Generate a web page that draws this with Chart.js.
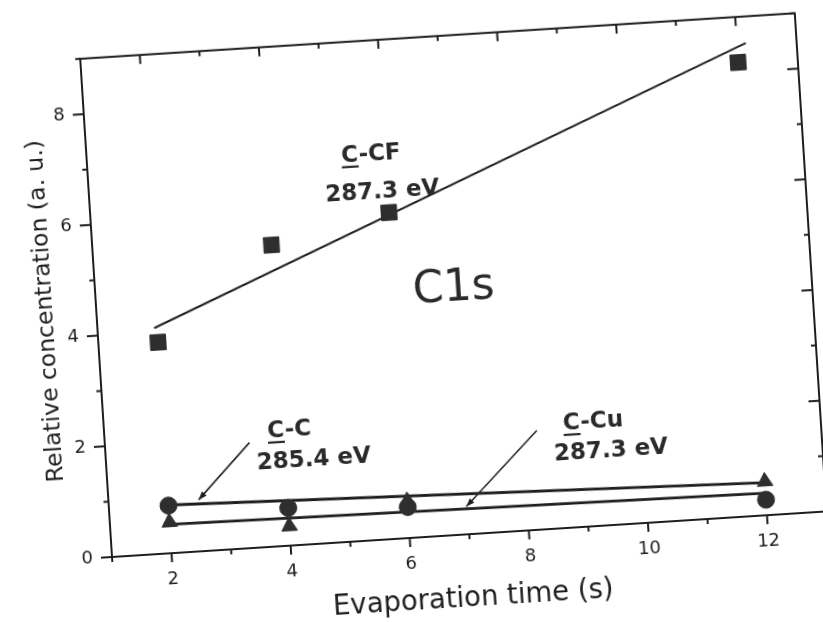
<!DOCTYPE html>
<html><head><meta charset="utf-8">
<script src="https://cdn.jsdelivr.net/npm/chart.js@4.4.0/dist/chart.umd.min.js"></script>
<style>
html,body{margin:0;padding:0;background:#fff;overflow:hidden;width:823px;height:622px;position:relative;}
canvas{position:absolute;left:0;top:0;}
</style></head><body>
<canvas id="c" width="796" height="594"></canvas>
<script>
// ---- data ----
const evapTime   = [2, 4, 6, 12];
const cfValues   = [3.81, 5.43, 5.88, 8.18];   // C-CF (squares)
const ccValues   = [0.86, 0.68, 0.56, 0.28];   // C-C (circles)
const ccuValues  = [0.56, 0.35, 0.67, 0.61];   // C-Cu (triangles)
const cfFitX  = [1.95, 12.15]; const cfFitY  = [4.07, 8.52];
const ccFitX  = [2, 12];       const ccFitY  = [0.87, 0.59];
const ccuFitX = [2, 12];       const ccuFitY = [0.52, 0.40];
const xTickValues = [2, 4, 6, 8, 10, 12];
const yTickValues = [0, 2, 4, 6, 8];
const xRange = [1, 13];
const yRange = [0, 9];
const xTitle = 'Evaporation time (s)';
const yTitle = 'Relative concentration (a. u.)';
// annotations (anchor in data units)
const noteText = ['C-CF', '287.3 eV', 'C1s', 'C-C', '285.4 eV', 'C-Cu', '287.3 eV'];
const noteX    = [5.76, 5.91, 7.0, 4.10, 4.48, 9.19, 9.46];
const noteY    = [6.94, 6.26, 4.42, 2.07, 1.52, 1.87, 1.33];
const arrowFromX = [3.42, 8.24]; const arrowFromY = [1.90, 1.79];
const arrowToX   = [2.51, 6.98]; const arrowToY   = [0.93, 0.50];

const INK = '#1e1e1e';
const MARK = '#2e2e2e';
const FONT = "'DejaVu Sans', sans-serif";
Chart.defaults.font.family = FONT;
Chart.defaults.color = INK;

const pts = (xs, ys) => xs.map((v, i) => ({x: v, y: ys[i]}));

const framePlugin = {
  id: 'frame',
  beforeDatasetsDraw(chart) {
    const {ctx, scales: {x, y}} = chart;
    const xl = x.getPixelForValue(xRange[0]), xr = x.getPixelForValue(xRange[1]);
    const yb = y.getPixelForValue(yRange[0]), yt = y.getPixelForValue(yRange[1]);
    ctx.save();
    ctx.strokeStyle = INK; ctx.lineWidth = 2; ctx.lineCap = 'square';
    ctx.strokeRect(xl, yt, xr - xl, yb - yt);
    ctx.lineCap = 'butt';
    const seg = (a, b, c, d) => { ctx.beginPath(); ctx.moveTo(a, b); ctx.lineTo(c, d); ctx.stroke(); };
    for (let v = xRange[0]; v <= xRange[1]; v++) {
      const px = x.getPixelForValue(v);
      const len = xTickValues.includes(v) ? 9 : 5;
      seg(px, yb, px, yb + len);
      seg(px, yt, px, yt + len);
    }
    for (let v = yRange[0]; v <= yRange[1]; v++) {
      const py = y.getPixelForValue(v);
      const len = yTickValues.includes(v) ? 11 : 5;
      seg(xl - len, py, xl, py);
      seg(xr - len, py, xr, py);
    }
    ctx.restore();
  }
};

const notePlugin = {
  id: 'notes',
  afterDatasetsDraw(chart) {
    const {ctx, scales: {x, y}} = chart;
    ctx.save();
    ctx.fillStyle = '#2a2a2a';
    ctx.textAlign = 'center';
    ctx.textBaseline = 'middle';
    noteText.forEach((t, i) => {
      const big = t === 'C1s';
      const size = big ? 44 : 23;
      ctx.font = (big ? '' : 'bold ') + size + 'px ' + FONT;
      const px = x.getPixelForValue(noteX[i]), py = y.getPixelForValue(noteY[i]);
      ctx.fillText(t, px, py);
      if (t.startsWith('C-')) {
        const w = ctx.measureText(t).width;
        const cw = ctx.measureText('C').width;
        ctx.fillRect(px - w / 2, py + size * 0.42, cw, 2.2);
      }
    });
    ctx.strokeStyle = INK; ctx.fillStyle = INK; ctx.lineWidth = 1.6;
    arrowFromX.forEach((fx, i) => {
      const x0 = x.getPixelForValue(fx), y0 = y.getPixelForValue(arrowFromY[i]);
      const x1 = x.getPixelForValue(arrowToX[i]), y1 = y.getPixelForValue(arrowToY[i]);
      ctx.beginPath(); ctx.moveTo(x0, y0); ctx.lineTo(x1, y1); ctx.stroke();
      const ang = Math.atan2(y1 - y0, x1 - x0), L = 9, W = 0.35;
      ctx.beginPath();
      ctx.moveTo(x1, y1);
      ctx.lineTo(x1 - L * Math.cos(ang - W), y1 - L * Math.sin(ang - W));
      ctx.lineTo(x1 - L * Math.cos(ang + W), y1 - L * Math.sin(ang + W));
      ctx.closePath(); ctx.fill();
    });
    ctx.restore();
  }
};

const markerDs = (label, ys, style, r) => ({
  label, data: pts(evapTime, ys), pointStyle: style, pointRadius: r,
  backgroundColor: MARK, borderColor: MARK, borderWidth: 1, showLine: false, order: 1
});
const fitDs = (label, xs, ys, w) => ({
  label, data: pts(xs, ys), showLine: true, pointRadius: 0,
  borderColor: INK, borderWidth: w, fill: false, order: 2
});

const makeConfig = () => ({
  type: 'scatter',
  data: {
    datasets: [
      markerDs('C-CF 287.3 eV', cfValues, 'rect', 11),
      markerDs('C-C 285.4 eV', ccValues, 'circle', 8.5),
      markerDs('C-Cu 287.3 eV', ccuValues, 'triangle', 9),
      fitDs('C-CF fit', cfFitX, cfFitY, 2),
      fitDs('C-C fit', ccFitX, ccFitY, 2.8),
      fitDs('C-Cu fit', ccuFitX, ccuFitY, 2.8)
    ]
  },
  options: {
    responsive: false, maintainAspectRatio: false, animation: false, devicePixelRatio: 1, events: [],
    layout: {padding: {left: 0, right: 10, top: 0, bottom: 0}},
    plugins: {legend: {display: false}, tooltip: {enabled: false}},
    scales: {
      x: {
        type: 'linear', position: 'bottom', min: xRange[0], max: xRange[1],
        grid: {display: false, drawTicks: false}, border: {display: false},
        afterBuildTicks: s => { s.ticks = xTickValues.map(v => ({value: v})); },
        afterFit: s => { s.height = 85; },
        ticks: {padding: 16, font: {size: 18}, color: INK},
        title: {display: true, text: xTitle, font: {size: 27.5}, color: INK, padding: {top: 0, bottom: 4}}
      },
      y: {
        type: 'linear', position: 'left', min: yRange[0], max: yRange[1],
        grid: {display: false, drawTicks: false}, border: {display: false},
        afterBuildTicks: s => { s.ticks = yTickValues.map(v => ({value: v})); },
        afterFit: s => { s.width = 70; },
        ticks: {padding: 19, font: {size: 18}, color: INK},
        title: {display: true, text: yTitle, font: {size: 23.5}, color: INK, padding: {top: 6, bottom: 0}}
      }
    }
  },
  plugins: [framePlugin, notePlugin]
});

const canvas = document.getElementById('c');
// first pass: measure the plot box, then size the canvas so the box matches the scanned figure
const wantW = 716, wantH = 499;
let chart = new Chart(canvas, makeConfig());
let ca = chart.chartArea;
const newW = Math.round(canvas.width + (wantW - (ca.right - ca.left)));
const newH = Math.round(canvas.height + (wantH - (ca.bottom - ca.top)));
chart.destroy();
canvas.width = newW; canvas.height = newH;
canvas.style.width = newW + 'px'; canvas.style.height = newH + 'px';
chart = new Chart(canvas, makeConfig());
ca = chart.chartArea;

// place the canvas so the plot corner sits where it is in the scanned figure, tilted like the scan
const anchorX = 111.7, anchorY = 557.3;
canvas.style.left = (anchorX - ca.left) + 'px';
canvas.style.top = (anchorY - ca.bottom) + 'px';
canvas.style.transformOrigin = ca.left + 'px ' + ca.bottom + 'px';
canvas.style.transform = 'rotate(-3.65deg)';
</script>
</body></html>
